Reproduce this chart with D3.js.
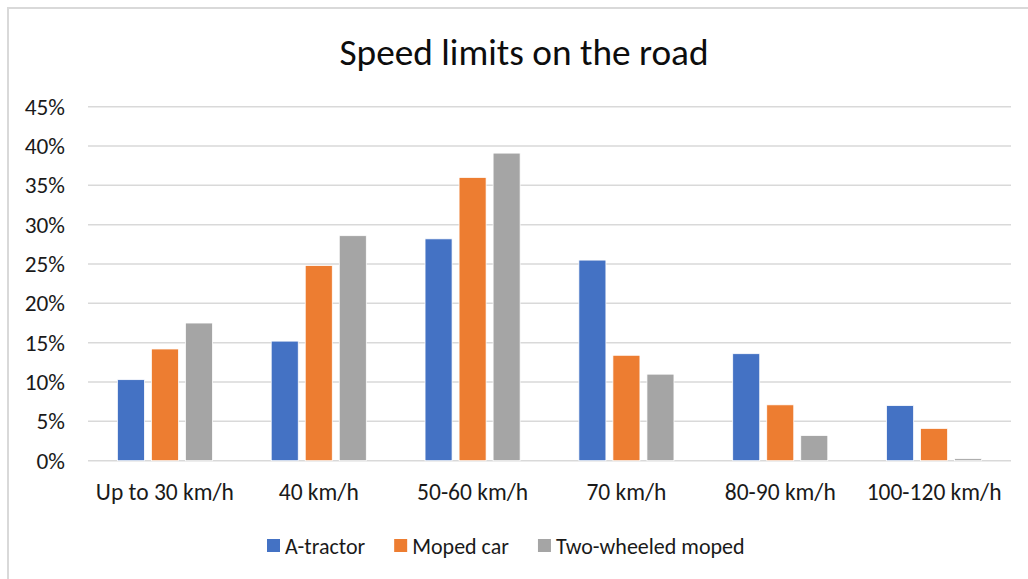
<!DOCTYPE html>
<html>
<head>
<meta charset="utf-8">
<script src="https://cdn.jsdelivr.net/npm/d3@7"></script>
<style>
  body { margin: 0; background: #fff; }
  svg { display: block; font-family: Carlito, Calibri, "Open Sans", sans-serif; }
</style>
</head>
<body>
<svg width="1028" height="579"></svg>
<script>
// data (percent)
const categories = ["Up to 30 km/h", "40 km/h", "50-60 km/h", "70 km/h", "80-90 km/h", "100-120 km/h"];
const seriesNames = ["A-tractor", "Moped car", "Two-wheeled moped"];
const aTractor = [10.3, 15.2, 28.2, 25.5, 13.6, 7.0];
const mopedCar = [14.2, 24.8, 36.0, 13.4, 7.1, 4.1];
const twoWheeled = [17.5, 28.6, 39.1, 11.0, 3.2, 0.25];
const yTicks = [0, 5, 10, 15, 20, 25, 30, 35, 40, 45];
const colors = ["#4472C4", "#ED7D31", "#A5A5A5"];

const series = [aTractor, mopedCar, twoWheeled];
const svg = d3.select("svg");

// chart frame (runs off the right and bottom edge)
svg.append("rect")
  .attr("x", 8).attr("y", 8)
  .attr("width", 1100).attr("height", 700)
  .attr("fill", "none")
  .attr("stroke", "#D9D9D9")
  .attr("stroke-width", 2);

const plot = { left: 88, right: 1011, top: 106.7, bottom: 460.7 };

const x0 = d3.scaleBand()
  .domain(categories)
  .range([plot.left, plot.right])
  .paddingInner(0.382)
  .paddingOuter(0.191);

const x1 = d3.scaleBand()
  .domain(d3.range(series.length))
  .range([0, x0.bandwidth()])
  .paddingInner(0.206);

const y = d3.scaleLinear()
  .domain([0, 45])
  .range([plot.bottom, plot.top]);

// gridlines
svg.append("g")
  .selectAll("line")
  .data(yTicks)
  .join("line")
  .attr("x1", plot.left).attr("x2", plot.right)
  .attr("y1", d => y(d)).attr("y2", d => y(d))
  .attr("stroke", "#D9D9D9")
  .attr("stroke-width", 1.5);

// y tick labels
svg.append("g")
  .selectAll("text")
  .data(yTicks)
  .join("text")
  .attr("x", 65)
  .attr("y", d => y(d))
  .attr("dy", "0.34em")
  .attr("text-anchor", "end")
  .attr("font-size", 23.3)
  .attr("fill", "#1a1a1a")
  .text(d => d + "%");

// bars, one group per category
const groups = svg.append("g")
  .selectAll("g")
  .data(categories)
  .join("g")
  .attr("transform", d => `translate(${x0(d)},0)`);

groups.selectAll("rect")
  .data((d, i) => series.map((s, k) => ({ k: k, v: s[i] })))
  .join("rect")
  .attr("x", d => x1(d.k))
  .attr("width", x1.bandwidth())
  .attr("y", d => y(d.v))
  .attr("height", d => y(0) - y(d.v))
  .attr("fill", d => colors[d.k])
  .attr("stroke", "#fff")
  .attr("stroke-width", 0.75);

// category labels
svg.append("g")
  .selectAll("text")
  .data(categories)
  .join("text")
  .attr("x", d => x0(d) + x0.bandwidth() / 2)
  .attr("y", 500)
  .attr("text-anchor", "middle")
  .attr("font-size", 23.5)
  .attr("fill", "#1a1a1a")
  .text(d => d);

// title
svg.append("text")
  .attr("x", 524)
  .attr("y", 65)
  .attr("text-anchor", "middle")
  .attr("font-size", 37.3)
  .attr("fill", "#0d0d0d")
  .text("Speed limits on the road");

// legend
const legend = svg.append("g");
let lx = 267;
seriesNames.forEach((name, k) => {
  legend.append("rect")
    .attr("x", lx).attr("y", 539)
    .attr("width", 13).attr("height", 13)
    .attr("fill", colors[k]);
  const t = legend.append("text")
    .attr("x", lx + 18)
    .attr("y", 554)
    .attr("font-size", 22)
    .attr("fill", "#1a1a1a")
    .text(name);
  lx += 18 + t.node().getComputedTextLength() + 29;
});
</script>
</body>
</html>
